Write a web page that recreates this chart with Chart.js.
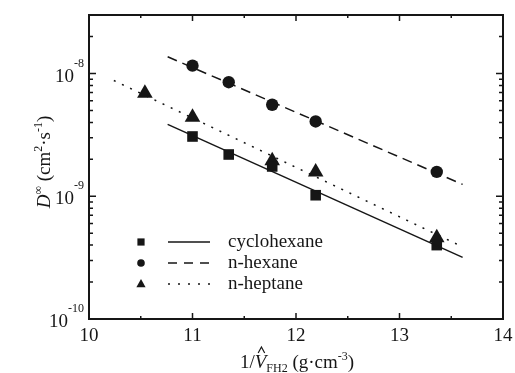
<!DOCTYPE html>
<html>
<head>
<meta charset="utf-8">
<script src="https://cdn.jsdelivr.net/npm/chart.js@4"></script>
<style>
  body { margin: 0; background: #fff; }
  #wrap { width: 515px; height: 373px; position: relative; }
</style>
</head>
<body>
<div id="wrap"><canvas id="chart"></canvas></div>
<script>
// measured points
const xVals = [11.0, 11.35, 11.77, 12.19, 13.36]
const cyclohexane = [3.07e-9, 2.19e-9, 1.75e-9, 1.02e-9, 4.0e-10]
const nHexane = [1.16e-8, 8.5e-9, 5.57e-9, 4.07e-9, 1.58e-9]
const heptaneX = [10.54, 11.0, 11.77, 12.19, 13.36]
const nHeptane = [6.9e-9, 4.4e-9, 1.95e-9, 1.58e-9, 4.6e-10]

// fitted lines (end points)
const cycloFitX = [10.76, 13.61]
const cycloFit = [3.85e-9, 3.18e-10]
const hexFitX = [10.76, 13.61]
const hexFit = [1.37e-8, 1.25e-9]
const heptFitX = [10.24, 13.61]
const heptFit = [8.77e-9, 3.87e-10]

// axis ticks
const xTicks = [10, 11, 12, 13, 14]
const xMinor = [10.5, 11.5, 12.5, 13.5]
const yExps = [-10, -9, -8]
const yMinorMult = [2, 3, 4, 5, 6, 7, 8, 9]

const legendNames = ['cyclohexane', 'n-hexane', 'n-heptane']

const INK = '#161616'
const SERIF = '"Liberation Serif", "DejaVu Serif", serif'

const pts = (xs, ys) => xs.map((x, i) => ({ x: x, y: ys[i] }))

function richText(ctx, x, y, parts, align) {
  // parts: [text, kind] kind: n, i, sup, sub
  const size = { n: 19, i: 19, sup: 12, sub: 12 }
  const off = { n: 0, i: 0, sup: -8, sub: 4 }
  const fontFor = k => (k === 'i' ? 'italic ' : '') + size[k] + 'px ' + SERIF
  let w = 0
  parts.forEach(p => { ctx.font = fontFor(p[1]); w += ctx.measureText(p[0]).width })
  let cx = align === 'center' ? x - w / 2 : x
  ctx.textAlign = 'left'
  ctx.textBaseline = 'alphabetic'
  parts.forEach(p => {
    ctx.font = fontFor(p[1])
    ctx.fillText(p[0], cx, y + off[p[1]])
    const pw = ctx.measureText(p[0]).width
    if (p[2] === 'hat') {
      ctx.save()
      ctx.lineWidth = 1.2
      ctx.beginPath()
      ctx.moveTo(cx + pw * 0.3, y - 15)
      ctx.lineTo(cx + pw * 0.58, y - 21)
      ctx.lineTo(cx + pw * 0.86, y - 15)
      ctx.stroke()
      ctx.restore()
    }
    cx += pw
  })
}

function drawMarker(ctx, type, x, y, r) {
  ctx.beginPath()
  if (type === 'circle') {
    ctx.arc(x, y, r, 0, Math.PI * 2)
  } else if (type === 'rect') {
    ctx.rect(x - r, y - r, 2 * r, 2 * r)
  } else {
    ctx.moveTo(x, y - r * 1.1)
    ctx.lineTo(x + r, y + r * 0.7)
    ctx.lineTo(x - r, y + r * 0.7)
    ctx.closePath()
  }
  ctx.fill()
}

const framePlugin = {
  id: 'frame',
  afterDraw(chart) {
    const ctx = chart.ctx
    const a = chart.chartArea
    const xs = chart.scales.x
    const ys = chart.scales.y
    ctx.save()
    ctx.strokeStyle = INK
    ctx.fillStyle = INK

    // frame
    ctx.lineWidth = 2
    ctx.strokeRect(a.left, a.top, a.right - a.left, a.bottom - a.top)

    // ticks, pointing inward
    ctx.lineWidth = 1.5
    ctx.beginPath()
    xTicks.slice(1, -1).forEach(v => {
      const px = xs.getPixelForValue(v)
      ctx.moveTo(px, a.bottom); ctx.lineTo(px, a.bottom - 6)
      ctx.moveTo(px, a.top); ctx.lineTo(px, a.top + 6)
    })
    xMinor.forEach(v => {
      const px = xs.getPixelForValue(v)
      ctx.moveTo(px, a.bottom); ctx.lineTo(px, a.bottom - 3)
      ctx.moveTo(px, a.top); ctx.lineTo(px, a.top + 3)
    })
    yExps.forEach(e => {
      const py = ys.getPixelForValue(Math.pow(10, e))
      ctx.moveTo(a.left, py); ctx.lineTo(a.left + 7, py)
      ctx.moveTo(a.right, py); ctx.lineTo(a.right - 7, py)
      yMinorMult.forEach(m => {
        const v = m * Math.pow(10, e)
        if (v > ys.max) return
        const pm = ys.getPixelForValue(v)
        ctx.moveTo(a.left, pm); ctx.lineTo(a.left + 4, pm)
        ctx.moveTo(a.right, pm); ctx.lineTo(a.right - 4, pm)
      })
    })
    ctx.stroke()

    // x tick labels
    ctx.font = '19px ' + SERIF
    ctx.textAlign = 'center'
    ctx.textBaseline = 'alphabetic'
    xTicks.forEach(v => {
      ctx.fillText(String(v), xs.getPixelForValue(v), a.bottom + 22)
    })

    // y tick labels 10^n
    yExps.forEach(e => {
      const py = ys.getPixelForValue(Math.pow(10, e))
      ctx.font = '12px ' + SERIF
      const ew = ctx.measureText(String(e)).width
      ctx.textAlign = 'left'
      ctx.textBaseline = 'alphabetic'
      const right = a.left - 5
      ctx.fillText(String(e), right - ew, py - 7)
      ctx.font = '19px ' + SERIF
      ctx.textAlign = 'right'
      ctx.fillText('10', right - ew, py + 8)
    })

    // x title
    richText(ctx, 297, 368, [
      ['1/', 'n'], ['V', 'i', 'hat'], ['FH2', 'sub'], [' (g\u00b7cm', 'n'], ['-3', 'sup'], [')', 'n']
    ], 'center')

    // y title (rotated)
    ctx.save()
    ctx.translate(50, 162)
    ctx.rotate(-Math.PI / 2)
    richText(ctx, 0, 0, [
      ['D', 'i'], ['\u221e', 'sup'], [' (cm', 'n'], ['2', 'sup'], ['\u00b7s', 'n'], ['-1', 'sup'], [')', 'n']
    ], 'center')
    ctx.restore()

    // legend
    const rows = [242, 263, 284]
    const markers = ['rect', 'circle', 'triangle']
    const dashes = [[], [9, 7], [2, 8]]
    rows.forEach((ry, i) => {
      drawMarker(ctx, markers[i], 141, ry, i === 0 ? 3.6 : i === 1 ? 3.8 : 4.6)
      ctx.lineWidth = 1.5
      ctx.setLineDash(dashes[i])
      ctx.beginPath()
      ctx.moveTo(168, ry); ctx.lineTo(210, ry)
      ctx.stroke()
      ctx.setLineDash([])
      ctx.font = '19px ' + SERIF
      ctx.textAlign = 'left'
      ctx.textBaseline = 'middle'
      ctx.fillText(legendNames[i], 228, ry)
    })
    ctx.restore()
  }
}

const fitLine = (data, dash) => ({
  data: data, showLine: true, pointRadius: 0, borderColor: INK,
  borderWidth: 1.5, borderDash: dash, fill: false, tension: 0
})
const marks = (data, style, r) => ({
  data: data, showLine: false, pointStyle: style, pointRadius: r,
  backgroundColor: INK, borderColor: INK, borderWidth: 0
})

new Chart(document.querySelector('#chart'), {
  type: 'scatter',
  data: {
    datasets: [
      fitLine(pts(cycloFitX, cycloFit), []),
      fitLine(pts(hexFitX, hexFit), [10, 6]),
      fitLine(pts(heptFitX, heptFit), [2, 7]),
      marks(pts(xVals, cyclohexane), 'rect', 7.5),
      marks(pts(xVals, nHexane), 'circle', 6.2),
      marks(pts(heptaneX, nHeptane), 'triangle', 9)
    ]
  },
  options: {
    responsive: true,
    maintainAspectRatio: false,
    animation: false,
    layout: { padding: { left: 89, right: 12, top: 15, bottom: 54 } },
    plugins: { legend: { display: false }, tooltip: { enabled: false } },
    scales: {
      x: { type: 'linear', min: 10, max: 14, display: false },
      y: { type: 'logarithmic', min: 1e-10, max: 3e-8, display: false }
    }
  },
  plugins: [framePlugin]
})
</script>
</body>
</html>
